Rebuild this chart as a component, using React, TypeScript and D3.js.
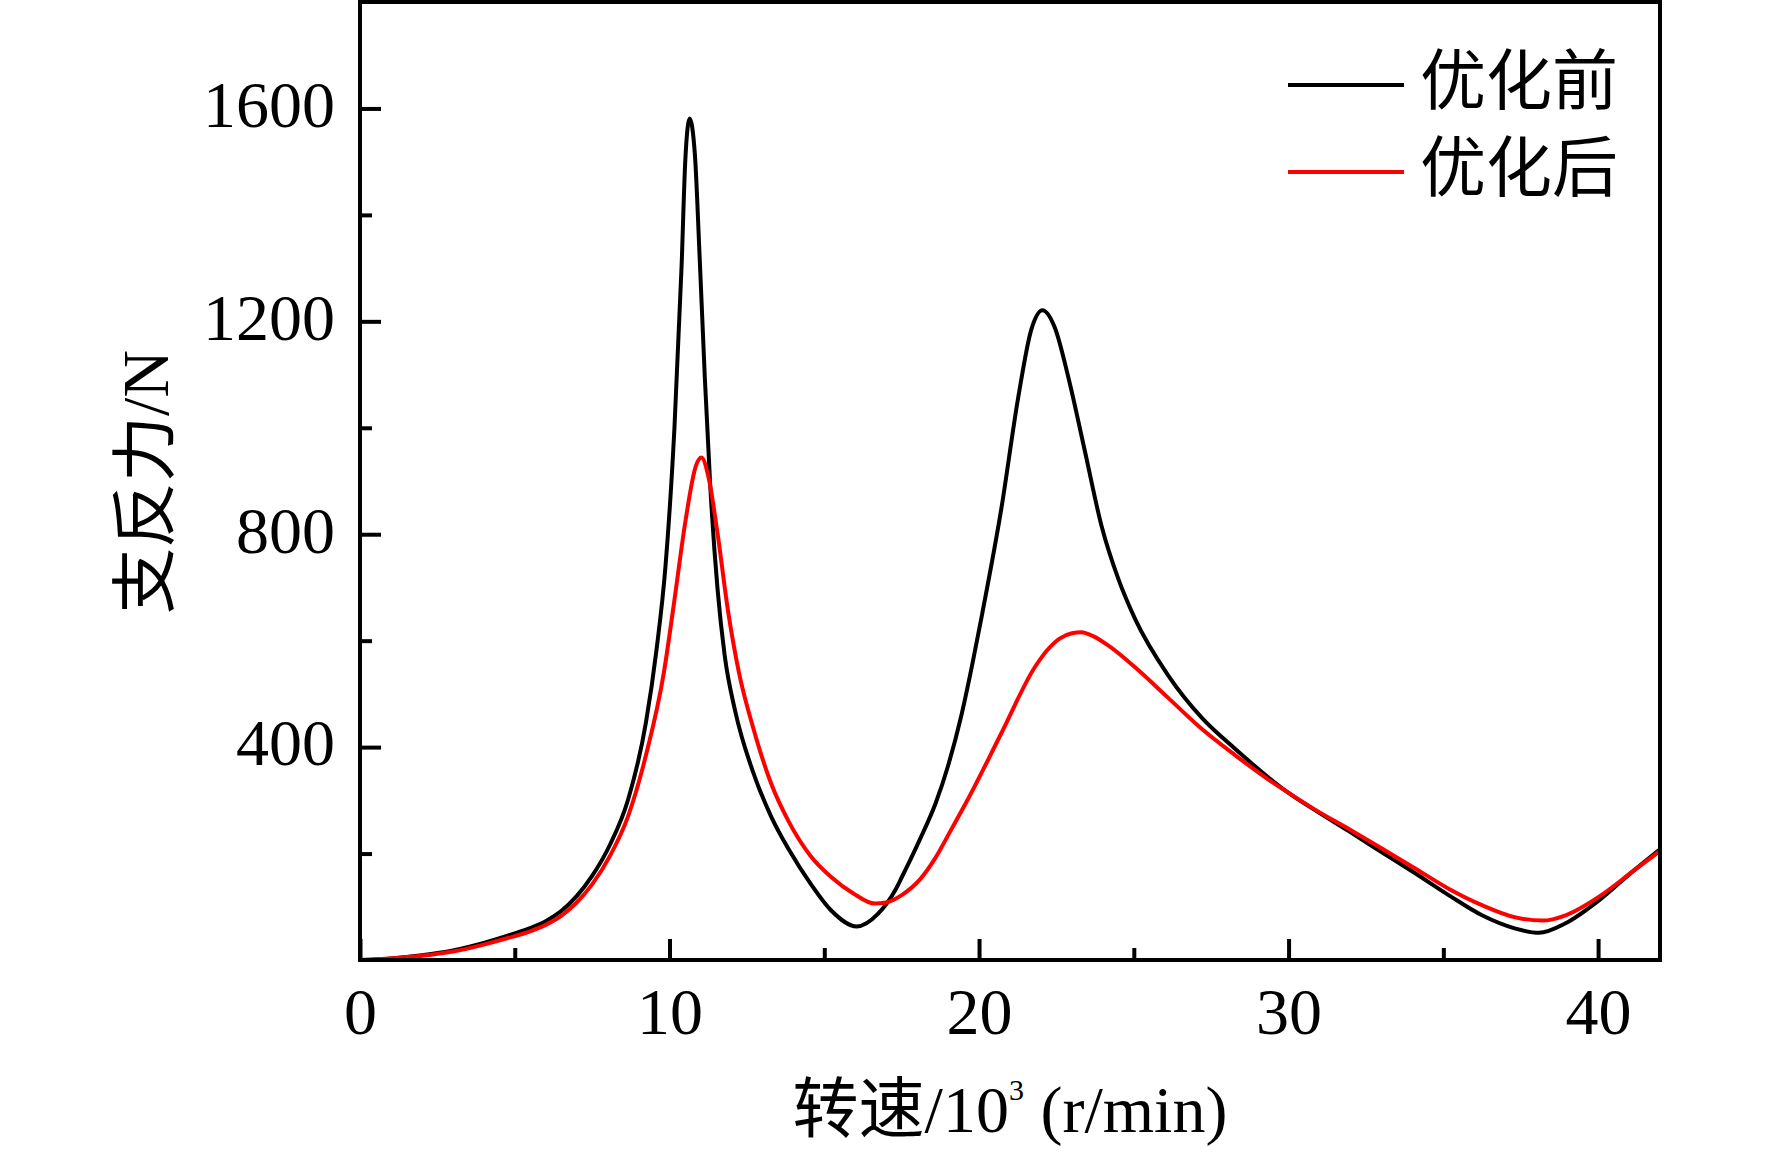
import * as d3 from 'd3';
import { useEffect, useRef } from 'react';

const WIDTH = 1772;
const HEIGHT = 1152;
const MARGIN = { top: 2, right: 112, bottom: 192, left: 360 };

const SERIF = '"Liberation Serif", "Times New Roman", serif';
const CJK = '"Noto Sans CJK SC", sans-serif';

// 转速 (10^3 r/min) and 支反力 (N)
const beforeX = [
  0, 1, 2, 3, 4, 5, 5.5, 6, 6.5, 7, 7.5, 8.08, 8.66, 9.24, 9.58, 9.87, 10.16,
  10.39, 10.51, 10.65, 10.82, 10.97, 11.14, 11.32, 11.55, 11.78, 12.12, 12.7,
  13.28, 13.86, 14.55, 15.24, 16.05, 16.74, 17.3, 17.5, 18.1, 18.6, 19.0,
  19.43, 19.78, 20.1, 20.72, 21.26, 21.69, 22.05, 22.45, 22.88, 23.42, 23.96,
  24.5, 25.04, 26.12, 27.2, 28.27, 29.35, 30, 30.84, 31.92, 33, 34.09, 35.17,
  36.25, 37.33, 38.09, 38.95, 40.03, 41.11, 42,
];
const beforeY = [
  0, 3, 9, 18, 32, 50, 60, 73, 92, 120, 158, 217, 301, 447, 583, 740, 1001,
  1304, 1503, 1581, 1513, 1325, 1095, 886, 698, 573, 468, 353,
  270, 207, 144, 92, 63, 87, 132, 155, 228, 295, 365,
  460, 555, 650, 848, 1055, 1185, 1221, 1188, 1096, 956, 815,
  716, 641, 534, 455, 397, 343, 314, 282, 243, 203, 163, 122,
  84, 59, 51, 69, 112, 166, 208,
];

const afterX = [
  0, 1, 2, 3, 4, 5, 5.5, 6, 6.5, 7, 7.5, 8.08, 8.66, 9.24, 9.82, 10.16, 10.51,
  10.85, 11.03, 11.26, 11.55, 11.89, 12.24, 12.7, 13.28, 13.86, 14.55, 15.24,
  15.94, 16.63, 17, 17.5, 18.1, 18.57, 19.1, 19.64, 20.72, 21.8, 22.2, 22.6,
  23, 23.31, 23.7, 24.17, 25.04, 26.12, 27.2, 28.27, 29.35, 30, 30.84, 31.92,
  33, 34.09, 35.17, 36.25, 37.33, 38.2, 38.95, 40.03, 41.11, 42,
];
const afterY = [
  0, 3, 8, 16, 29, 45, 54, 66, 83, 108, 142, 196, 270, 385, 541, 677, 823,
  928, 944, 907, 802, 656, 541, 437, 332, 259, 196, 155,
  125, 106, 108, 122, 152, 190, 245, 302, 426, 550, 582, 604,
  614, 616, 608, 591, 550, 492, 434, 385, 339, 314, 283, 247,
  210, 172, 134, 103, 80, 74, 84, 119, 166, 205,
];

const seriesNames = ['优化前', '优化后'];
const seriesColors = ['#000000', '#ff0000'];

const xMajor = [0, 10, 20, 30, 40];
const xMinor = [5, 15, 25, 35];
const yMajor = [400, 800, 1200, 1600];
const yMinor = [200, 600, 1000, 1400];

export default function App() {
  const ref = useRef<SVGSVGElement>(null);

  useEffect(() => {
    const svg = d3.select(ref.current);
    svg.selectAll('*').remove();

    const innerW = WIDTH - MARGIN.left - MARGIN.right;
    const innerH = HEIGHT - MARGIN.top - MARGIN.bottom;

    const x = d3.scaleLinear().domain([0, 42]).range([0, innerW]);
    const y = d3.scaleLinear().domain([0, 1800]).range([innerH, 0]);

    const g = svg
      .append('g')
      .attr('transform', `translate(${MARGIN.left},${MARGIN.top})`);

    const series = [
      beforeX.map((v, i) => [v, beforeY[i]] as [number, number]),
      afterX.map((v, i) => [v, afterY[i]] as [number, number]),
    ];

    const line = d3
      .line<[number, number]>()
      .x((d) => x(d[0]))
      .y((d) => y(d[1]))
      .curve(d3.curveMonotoneX);

    g.append('defs')
      .append('clipPath')
      .attr('id', 'plot-clip')
      .append('rect')
      .attr('width', innerW)
      .attr('height', innerH);

    const curves = g.append('g').attr('clip-path', 'url(#plot-clip)');
    series.forEach((data, i) => {
      curves
        .append('path')
        .datum(data)
        .attr('fill', 'none')
        .attr('stroke', seriesColors[i])
        .attr('stroke-width', 4)
        .attr('stroke-linejoin', 'miter')
        .attr('d', line);
    });

    // axes: ticks point inward
    const xAxis = g
      .append('g')
      .attr('transform', `translate(0,${innerH})`)
      .call(
        d3
          .axisBottom(x)
          .tickValues(xMajor)
          .tickSize(-21)
          .tickPadding(27)
          .tickFormat(d3.format('d')),
      );
    g.append('g')
      .attr('transform', `translate(0,${innerH})`)
      .call(d3.axisBottom(x).tickValues(xMinor).tickSize(-12).tickFormat(() => ''));

    const yAxis = g
      .append('g')
      .call(
        d3
          .axisLeft(y)
          .tickValues(yMajor)
          .tickSize(-21)
          .tickPadding(25)
          .tickFormat(d3.format('d')),
      );
    g.append('g').call(
      d3.axisLeft(y).tickValues(yMinor).tickSize(-12).tickFormat(() => ''),
    );

    g.selectAll('.domain').remove();
    g.selectAll('.tick line').attr('stroke', '#000').attr('stroke-width', 4);
    g.selectAll('.tick text')
      .attr('fill', '#000')
      .style('font-family', SERIF)
      .style('font-size', '66px');
    yAxis.selectAll('.tick text').attr('dy', '0.27em');
    xAxis.selectAll('.tick text').attr('dy', '0.71em');

    // frame
    g.append('rect')
      .attr('width', innerW)
      .attr('height', innerH)
      .attr('fill', 'none')
      .attr('stroke', '#000')
      .attr('stroke-width', 4);

    // legend
    const legend = svg.append('g');
    seriesNames.forEach((name, i) => {
      const cy = 85 + i * 87;
      legend
        .append('line')
        .attr('x1', 1288)
        .attr('x2', 1404)
        .attr('y1', cy)
        .attr('y2', cy)
        .attr('stroke', seriesColors[i])
        .attr('stroke-width', 4);
      legend
        .append('text')
        .attr('x', 1420)
        .attr('y', cy + 19)
        .style('font-family', CJK)
        .style('font-size', '66px')
        .attr('fill', '#000')
        .text(name);
    });

    // x title
    const xt = svg
      .append('text')
      .attr('x', 1010)
      .attr('y', 1132)
      .attr('text-anchor', 'middle')
      .attr('fill', '#000')
      .style('font-family', SERIF)
      .style('font-size', '66px');
    xt.append('tspan').style('font-family', CJK).style('font-size', '66px').text('转速');
    xt.append('tspan').text('/10');
    xt.append('tspan').attr('dy', -32).style('font-size', '30px').text('3');
    xt.append('tspan').attr('dy', 32).text(' (r/min)');

    // y title
    const yt = svg
      .append('text')
      .attr('transform', 'translate(168,482) rotate(-90)')
      .attr('text-anchor', 'middle')
      .attr('fill', '#000')
      .style('font-family', SERIF)
      .style('font-size', '66px');
    yt.append('tspan').style('font-family', CJK).style('font-size', '66px').text('支反力');
    yt.append('tspan').text('/N');
  }, []);

  return (
    <svg
      ref={ref}
      width={WIDTH}
      height={HEIGHT}
      style={{ position: 'absolute', left: 0, top: 0, background: '#fff' }}
    />
  );
}
